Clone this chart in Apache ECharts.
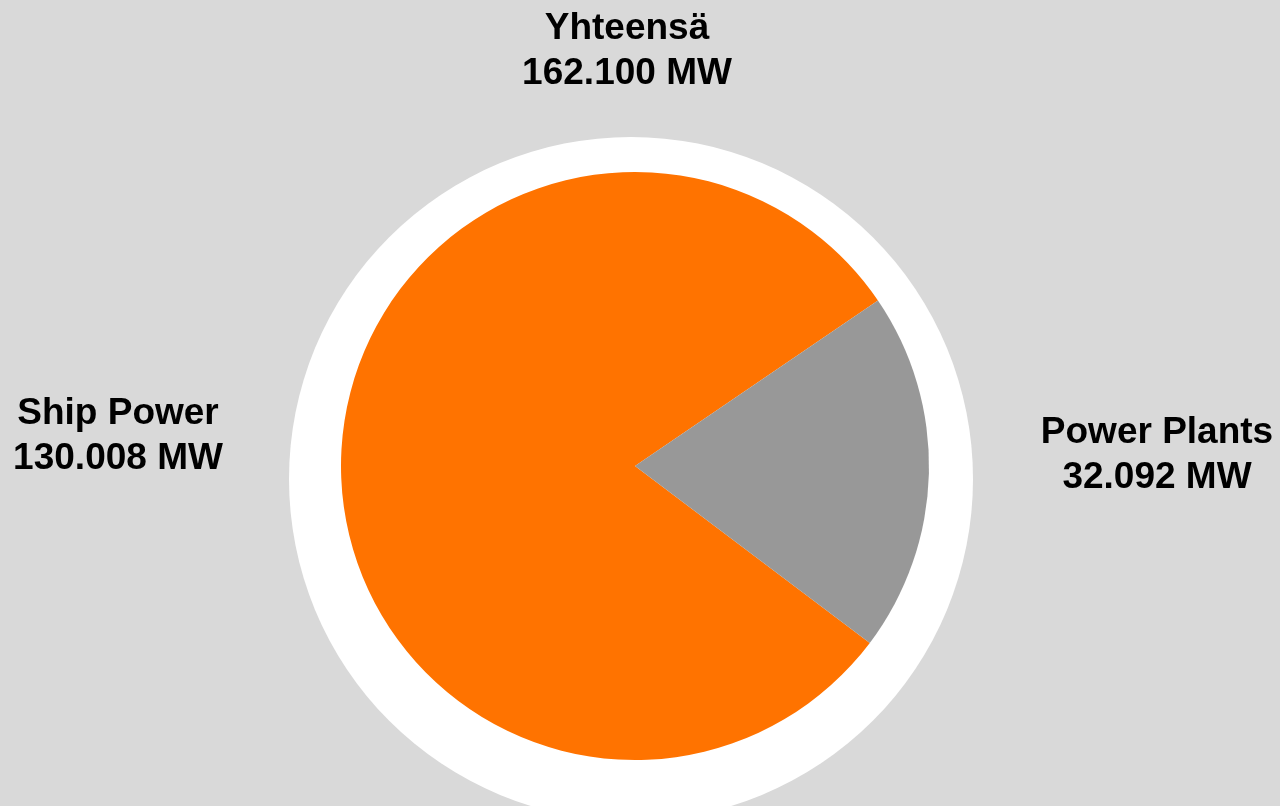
<!DOCTYPE html>
<html>
<head>
<meta charset="utf-8">
<script src="https://cdn.jsdelivr.net/npm/echarts@6/dist/echarts.min.js"></script>
<style>
html,body{margin:0;padding:0;background:#d9d9d9;}
#chart{width:1280px;height:806px;}
</style>
</head>
<body>
<div id="chart"></div>
<script>
const categories = ['Ship Power', 'Power Plants'];
const values = [130.008, 32.092];
const totalLabel = 'Yhteensä';
const unit = 'MW';
const colors = ['#ff7300', '#989898'];

const total = values.reduce((a, b) => a + b, 0);
const fmt = v => v.toFixed(3) + ' ' + unit;

const labelPos = [
  { x: 118, y: 436 },
  { x: 1157, y: 455 }
];

const FONT = '"Liberation Sans", Arial, sans-serif';

const chart = echarts.init(document.getElementById('chart'));
chart.setOption({
  backgroundColor: '#d9d9d9',
  animation: false,
  title: {
    text: totalLabel + '\n' + fmt(total),
    left: 622,
    top: 46,
    textAlign: 'center',
    textVerticalAlign: 'middle',
    textStyle: {
      fontFamily: FONT,
      fontWeight: 'bold',
      fontSize: 37,
      lineHeight: 45,
      color: '#000'
    }
  },
  series: [
    {
      type: 'pie',
      silent: true,
      center: [631, 479],
      radius: [0, 342],
      label: { show: false },
      labelLine: { show: false },
      itemStyle: { color: '#ffffff' },
      data: [{ name: totalLabel, value: total }],
      z: 1
    },
    {
      type: 'pie',
      silent: true,
      center: [635, 466],
      radius: [0, 294],
      startAngle: -37,
      clockwise: true,
      z: 2,
      label: {
        show: true,
        position: 'outside',
        formatter: p => p.name + '\n' + fmt(p.value),
        fontFamily: FONT,
        fontWeight: 'bold',
        fontSize: 37,
        lineHeight: 45,
        color: '#000',
        align: 'center',
        verticalAlign: 'middle'
      },
      labelLine: { show: false },
      labelLayout: params => ({
        x: labelPos[params.dataIndex].x,
        y: labelPos[params.dataIndex].y,
        align: 'center',
        verticalAlign: 'middle'
      }),
      data: categories.map((c, i) => ({ name: c, value: values[i], itemStyle: { color: colors[i] } }))
    }
  ]
});
</script>
</body>
</html>
